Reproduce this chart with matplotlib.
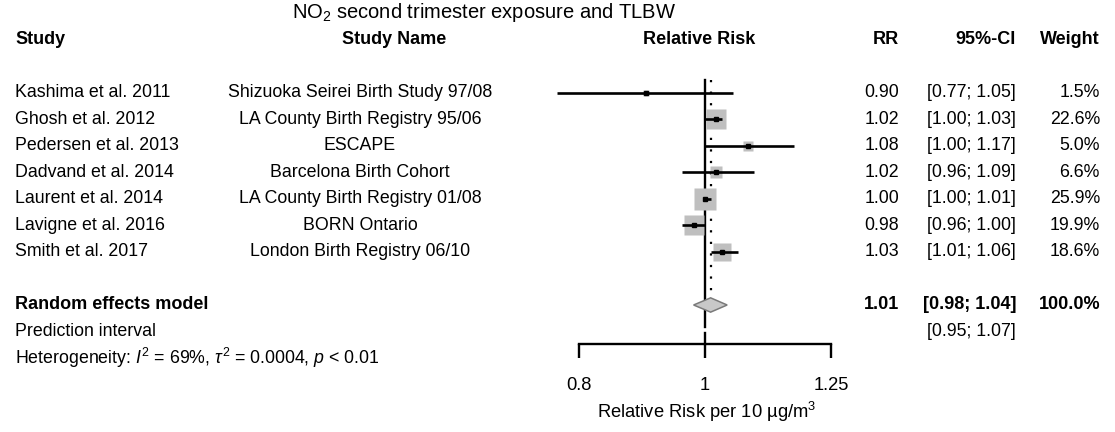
import matplotlib

matplotlib.use("Agg")
import matplotlib.pyplot as plt  # noqa: E402
import matplotlib.transforms as mtransforms  # noqa: E402
from matplotlib.patches import Polygon  # noqa: E402

plt.rcParams["font.family"] = ["Liberation Sans", "DejaVu Sans"]
plt.rcParams["mathtext.fontset"] = "custom"
plt.rcParams["mathtext.rm"] = "Liberation Sans"
plt.rcParams["mathtext.it"] = "Liberation Sans:italic"
plt.rcParams["mathtext.bf"] = "Liberation Sans:bold"

# study-level data
authors = ["Kashima et al. 2011", "Ghosh et al. 2012", "Pedersen et al. 2013",
           "Dadvand et al. 2014", "Laurent et al. 2014", "Lavigne et al. 2016",
           "Smith et al. 2017"]
study_names = ["Shizuoka Seirei Birth Study 97/08", "LA County Birth Registry 95/06",
               "ESCAPE", "Barcelona Birth Cohort", "LA County Birth Registry 01/08",
               "BORN Ontario", "London Birth Registry 06/10"]
rr = [0.90, 1.02, 1.08, 1.02, 1.00, 0.98, 1.03]
ci_low = [0.77, 1.00, 1.00, 0.96, 1.00, 0.96, 1.01]
ci_high = [1.05, 1.03, 1.17, 1.09, 1.01, 1.00, 1.06]
weights = [1.5, 22.6, 5.0, 6.6, 25.9, 19.9, 18.6]

# pooled estimate and prediction interval
re_rr, re_low, re_high, re_weight = 1.01, 0.98, 1.04, 100.0
pi_low, pi_high = 0.95, 1.07
i2, tau2 = 69, 0.0004

xticks = [0.8, 1, 1.25]
xtick_labels = ["0.8", "1", "1.25"]

W, H, DPI = 1115, 432, 100
FS = 12.8
FS_HEAD = 13.0

fig = plt.figure(figsize=(W / DPI, H / DPI), dpi=DPI)


def fx(px):
    return px / W


# forest panel: log-scaled x, rows counted downwards
ax_left, ax_right, ax_bottom = 540, 870, 344
ax = fig.add_axes([fx(ax_left), 1 - ax_bottom / H, fx(ax_right - ax_left), ax_bottom / H])
ax.set_xscale("log")
ax.set_xlim(0.7466, 1.3394)
ax.set_ylim(10.472, -2.509)
for side in ("top", "right", "left"):
    ax.spines[side].set_visible(False)
ax.spines["bottom"].set_linewidth(1.7)
ax.spines["bottom"].set_bounds(xticks[0], xticks[-1])
ax.set_yticks([])
ax.xaxis.set_minor_locator(matplotlib.ticker.NullLocator())
ax.set_xticks(xticks)
ax.set_xticklabels(xtick_labels)
ax.tick_params(axis="x", direction="out", length=10, width=1.7, pad=14, labelsize=13.2)
ax.patch.set_visible(False)

rows = list(range(1, len(rr) + 1))
re_row, pi_row, het_row = len(rr) + 2, len(rr) + 3, len(rr) + 4

# reference line at 1 (interrupted at the prediction interval row) and pooled dotted line
ax.plot([1, 1], [0.5, pi_row - 0.17], color="black", lw=1.7, zorder=1)
ax.plot([1, 1], [pi_row + 0.06, 10.472], color="black", lw=1.7, zorder=1, clip_on=False)
ax.plot([re_rr, re_rr], [0.5, re_row - 0.27], color="black", lw=1.6,
        linestyle=(0, (1, 4.2)), zorder=1)

for r, est, lo, hi, w in zip(rows, rr, ci_low, ci_high, weights):
    side = 4.3 * w ** 0.5 * 0.72
    ax.plot(est, r, marker="s", ms=side, color="#bfbfbf", mec="none", zorder=2)
    ax.plot([lo, hi], [r, r], color="black", lw=1.9, solid_capstyle="butt", zorder=3)
    ax.plot(est, r, marker="s", ms=2.6, color="black", zorder=4)

h = 0.27
diamond = Polygon([(re_low, re_row), (re_rr, re_row - h), (re_high, re_row), (re_rr, re_row + h)],
                  closed=True, facecolor="#c8c8c8", edgecolor="#7a7a7a", lw=1.1, zorder=3)
ax.add_patch(diamond)

# text columns: x in figure pixels, y in forest rows
tr = mtransforms.blended_transform_factory(fig.transFigure, ax.transData)


def put(px, row, s, ha="left", bold=False):
    fig.text(fx(px), row, s, transform=tr, ha=ha, va="center",
             fontsize=FS_HEAD if bold else FS,
             fontweight="bold" if bold else "normal")


col_study, col_name, col_rr, col_ci, col_w = 15, 360, 899, 1016, 1100

fig.text(fx(484), 1 - 12 / H, r"NO$_2$ second trimester exposure and TLBW",
         ha="center", va="center", fontsize=14.5)
put(col_study, -1, "Study", bold=True)
put(394, -1, "Study Name", ha="center", bold=True)
put(699, -1, "Relative Risk", ha="center", bold=True)
put(col_rr, -1, "RR", ha="right", bold=True)
put(col_ci, -1, "95%-CI", ha="right", bold=True)
put(col_w, -1, "Weight", ha="right", bold=True)

for r, a, n, est, lo, hi, w in zip(rows, authors, study_names, rr, ci_low, ci_high, weights):
    put(col_study, r, a)
    put(col_name, r, n, ha="center")
    put(col_rr, r, f"{est:.2f}", ha="right")
    put(col_ci, r, f"[{lo:.2f}; {hi:.2f}]", ha="right")
    put(col_w, r, f"{w:.1f}%", ha="right")

put(col_study, re_row, "Random effects model", bold=True)
put(col_rr, re_row, f"{re_rr:.2f}", ha="right", bold=True)
put(col_ci, re_row, f"[{re_low:.2f}; {re_high:.2f}]", ha="right", bold=True)
put(col_w, re_row, f"{re_weight:.1f}%", ha="right", bold=True)
put(col_study, pi_row, "Prediction interval")
put(col_ci, pi_row, f"[{pi_low:.2f}; {pi_high:.2f}]", ha="right")
put(col_study, het_row,
    rf"Heterogeneity: $I^2$ = {i2}%, $\tau^2$ = {tau2}, $p$ < 0.01")

fig.text(fx(707), 1 - 412 / H, r"Relative Risk per 10 µg/m$^3$", ha="center", va="center",
         fontsize=13.2)

fig.savefig("out.png", dpi=DPI, facecolor="white")
